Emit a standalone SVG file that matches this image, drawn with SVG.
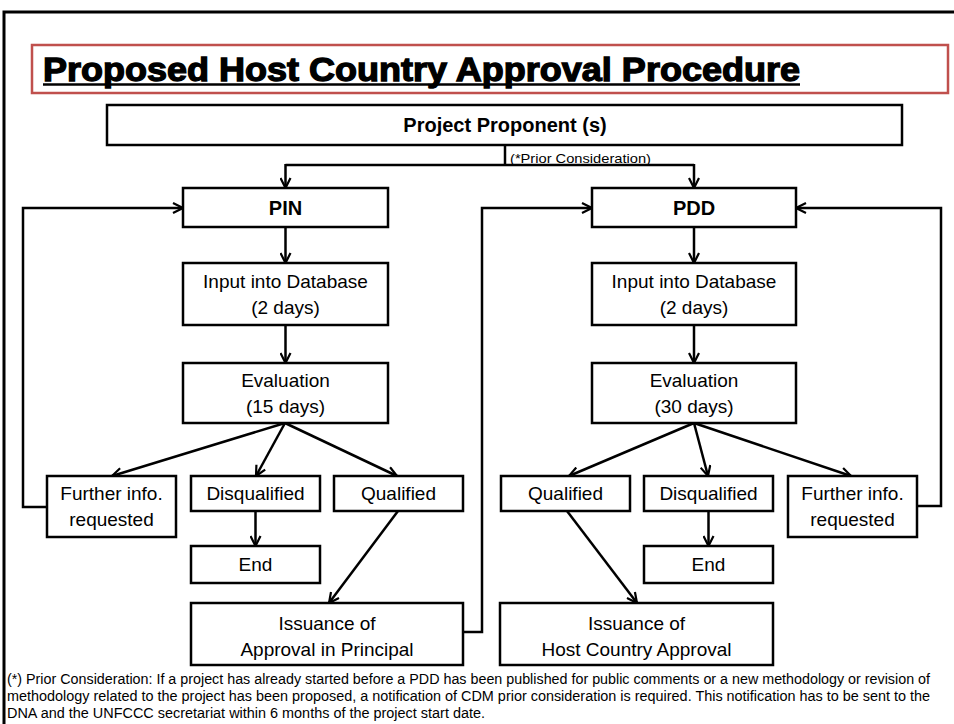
<svg xmlns="http://www.w3.org/2000/svg" width="954" height="724" viewBox="0 0 954 724">
<style>
.box{fill:#fff;stroke:#000;stroke-width:2.5}
.t{font-family:"Liberation Sans",Arial,sans-serif;font-size:19px;fill:#000;text-anchor:middle}
.b{font-family:"Liberation Sans",Arial,sans-serif;font-size:20px;font-weight:bold;fill:#000;text-anchor:middle}
.fn{font-family:"Liberation Sans",Arial,sans-serif;font-size:14px;fill:#000}
.c{fill:none;stroke:#000;stroke-width:2.5}
</style>
<defs>
<marker id="a" viewBox="0 0 12 12" refX="11" refY="6" markerWidth="12" markerHeight="12" markerUnits="userSpaceOnUse" orient="auto">
<path d="M1,1 L11,6 L1,11" fill="none" stroke="#000" stroke-width="2.2"/>
</marker>
</defs>
<rect width="954" height="724" fill="#fff"/>
<path d="M4,730 V12 H960" fill="none" stroke="#000" stroke-width="3"/>
<g id="title">
<rect x="32" y="45" width="916" height="48" fill="#fff" stroke="#c0504d" stroke-width="2.5"/>
<text x="43" y="81" font-family="'Arial Black','Liberation Sans',Arial,sans-serif" font-size="33" font-weight="900" stroke="#000" stroke-width="1.3" textLength="757" lengthAdjust="spacingAndGlyphs">Proposed Host Country Approval Procedure</text>
<line x1="43" y1="84.5" x2="800" y2="84.5" stroke="#000" stroke-width="2.5"/>
</g>
<g id="connectors">
<path class="c" d="M505,145 V165"/>
<path class="c" d="M285.5,165 H694"/>
<path class="c" d="M285.5,164 V188" marker-end="url(#a)"/>
<path class="c" d="M694,164 V188" marker-end="url(#a)"/>
<path class="c" d="M285.5,227 V263" marker-end="url(#a)"/>
<path class="c" d="M285.5,325 V363" marker-end="url(#a)"/>
<path class="c" d="M694,227 V263" marker-end="url(#a)"/>
<path class="c" d="M694,325 V363" marker-end="url(#a)"/>
<path class="c" d="M285,423 L112,476" marker-end="url(#a)"/>
<path class="c" d="M285,423 L256,476" marker-end="url(#a)"/>
<path class="c" d="M285,423 L397,476" marker-end="url(#a)"/>
<path class="c" d="M255.5,511 V546" marker-end="url(#a)"/>
<path class="c" d="M398,511 L329,603" marker-end="url(#a)"/>
<path class="c" d="M694,423 L569,476" marker-end="url(#a)"/>
<path class="c" d="M694,423 L708,476" marker-end="url(#a)"/>
<path class="c" d="M694,423 L851,476" marker-end="url(#a)"/>
<path class="c" d="M708.5,511 V546" marker-end="url(#a)"/>
<path class="c" d="M567,511 L637,603" marker-end="url(#a)"/>
<path class="c" d="M47,507 H23 V208 H183" marker-end="url(#a)"/>
<path class="c" d="M917,506 H941 V208 H796" marker-end="url(#a)"/>
<path class="c" d="M463,632 H482 V208 H592" marker-end="url(#a)"/>
<text x="510" y="163" font-family="'Liberation Sans',Arial,sans-serif" font-size="13" textLength="141" lengthAdjust="spacingAndGlyphs">(*Prior Consideration)</text>
</g>
<g id="proponent">
<rect class="box" x="107" y="105" width="795" height="40"/>
<text class="b" x="505" y="132">Project Proponent (s)</text>
</g>
<g id="pin">
<rect class="box" x="183" y="188" width="205" height="39"/>
<text class="b" x="285.5" y="215">PIN</text>
</g>
<g id="pdd">
<rect class="box" x="592" y="188" width="204" height="39"/>
<text class="b" x="694" y="215">PDD</text>
</g>
<g id="input-l">
<rect class="box" x="183" y="263" width="205" height="62"/>
<text class="t" x="285.5" y="288">Input into Database</text>
<text class="t" x="285.5" y="314">(2 days)</text>
</g>
<g id="eval-l">
<rect class="box" x="183" y="363" width="205" height="60"/>
<text class="t" x="285.5" y="387">Evaluation</text>
<text class="t" x="285.5" y="413">(15 days)</text>
</g>
<g id="input-r">
<rect class="box" x="592" y="263" width="204" height="62"/>
<text class="t" x="694" y="288">Input into Database</text>
<text class="t" x="694" y="314">(2 days)</text>
</g>
<g id="eval-r">
<rect class="box" x="592" y="363" width="204" height="60"/>
<text class="t" x="694" y="387">Evaluation</text>
<text class="t" x="694" y="413">(30 days)</text>
</g>
<g id="further-l">
<rect class="box" x="47" y="476" width="129" height="61"/>
<text class="t" x="111.5" y="500">Further info.</text>
<text class="t" x="111.5" y="526">requested</text>
</g>
<g id="disq-l">
<rect class="box" x="191" y="476" width="129" height="35"/>
<text class="t" x="255.5" y="500">Disqualified</text>
</g>
<g id="qual-l">
<rect class="box" x="334" y="476" width="129" height="35"/>
<text class="t" x="398.5" y="500">Qualified</text>
</g>
<g id="end-l">
<rect class="box" x="191" y="546" width="129" height="37"/>
<text class="t" x="255.5" y="571">End</text>
</g>
<g id="qual-r">
<rect class="box" x="501" y="476" width="129" height="35"/>
<text class="t" x="565.5" y="500">Qualified</text>
</g>
<g id="disq-r">
<rect class="box" x="644" y="476" width="129" height="35"/>
<text class="t" x="708.5" y="500">Disqualified</text>
</g>
<g id="further-r">
<rect class="box" x="788" y="476" width="129" height="61"/>
<text class="t" x="852.5" y="500">Further info.</text>
<text class="t" x="852.5" y="526">requested</text>
</g>
<g id="end-r">
<rect class="box" x="644" y="546" width="129" height="37"/>
<text class="t" x="708.5" y="571">End</text>
</g>
<g id="issue-aip">
<rect class="box" x="191" y="603" width="272" height="62"/>
<text class="t" x="327" y="630">Issuance of</text>
<text class="t" x="327" y="656">Approval in Principal</text>
</g>
<g id="issue-hca">
<rect class="box" x="500" y="603" width="273" height="62"/>
<text class="t" x="636.5" y="630">Issuance of</text>
<text class="t" x="636.5" y="656">Host Country Approval</text>
</g>
<g id="footnote">
<text class="fn" x="7" y="684" textLength="923" lengthAdjust="spacingAndGlyphs">(*) Prior Consideration: If a project has already started before a PDD has been published for public comments or a new methodology or revision of</text>
<text class="fn" x="7" y="701" textLength="923" lengthAdjust="spacingAndGlyphs">methodology related to the project has been proposed, a notification of CDM prior consideration is required. This notification has to be sent to the</text>
<text class="fn" x="7" y="718" textLength="478" lengthAdjust="spacingAndGlyphs">DNA and the UNFCCC secretariat within 6 months of the project start date.</text>
</g>
</svg>
